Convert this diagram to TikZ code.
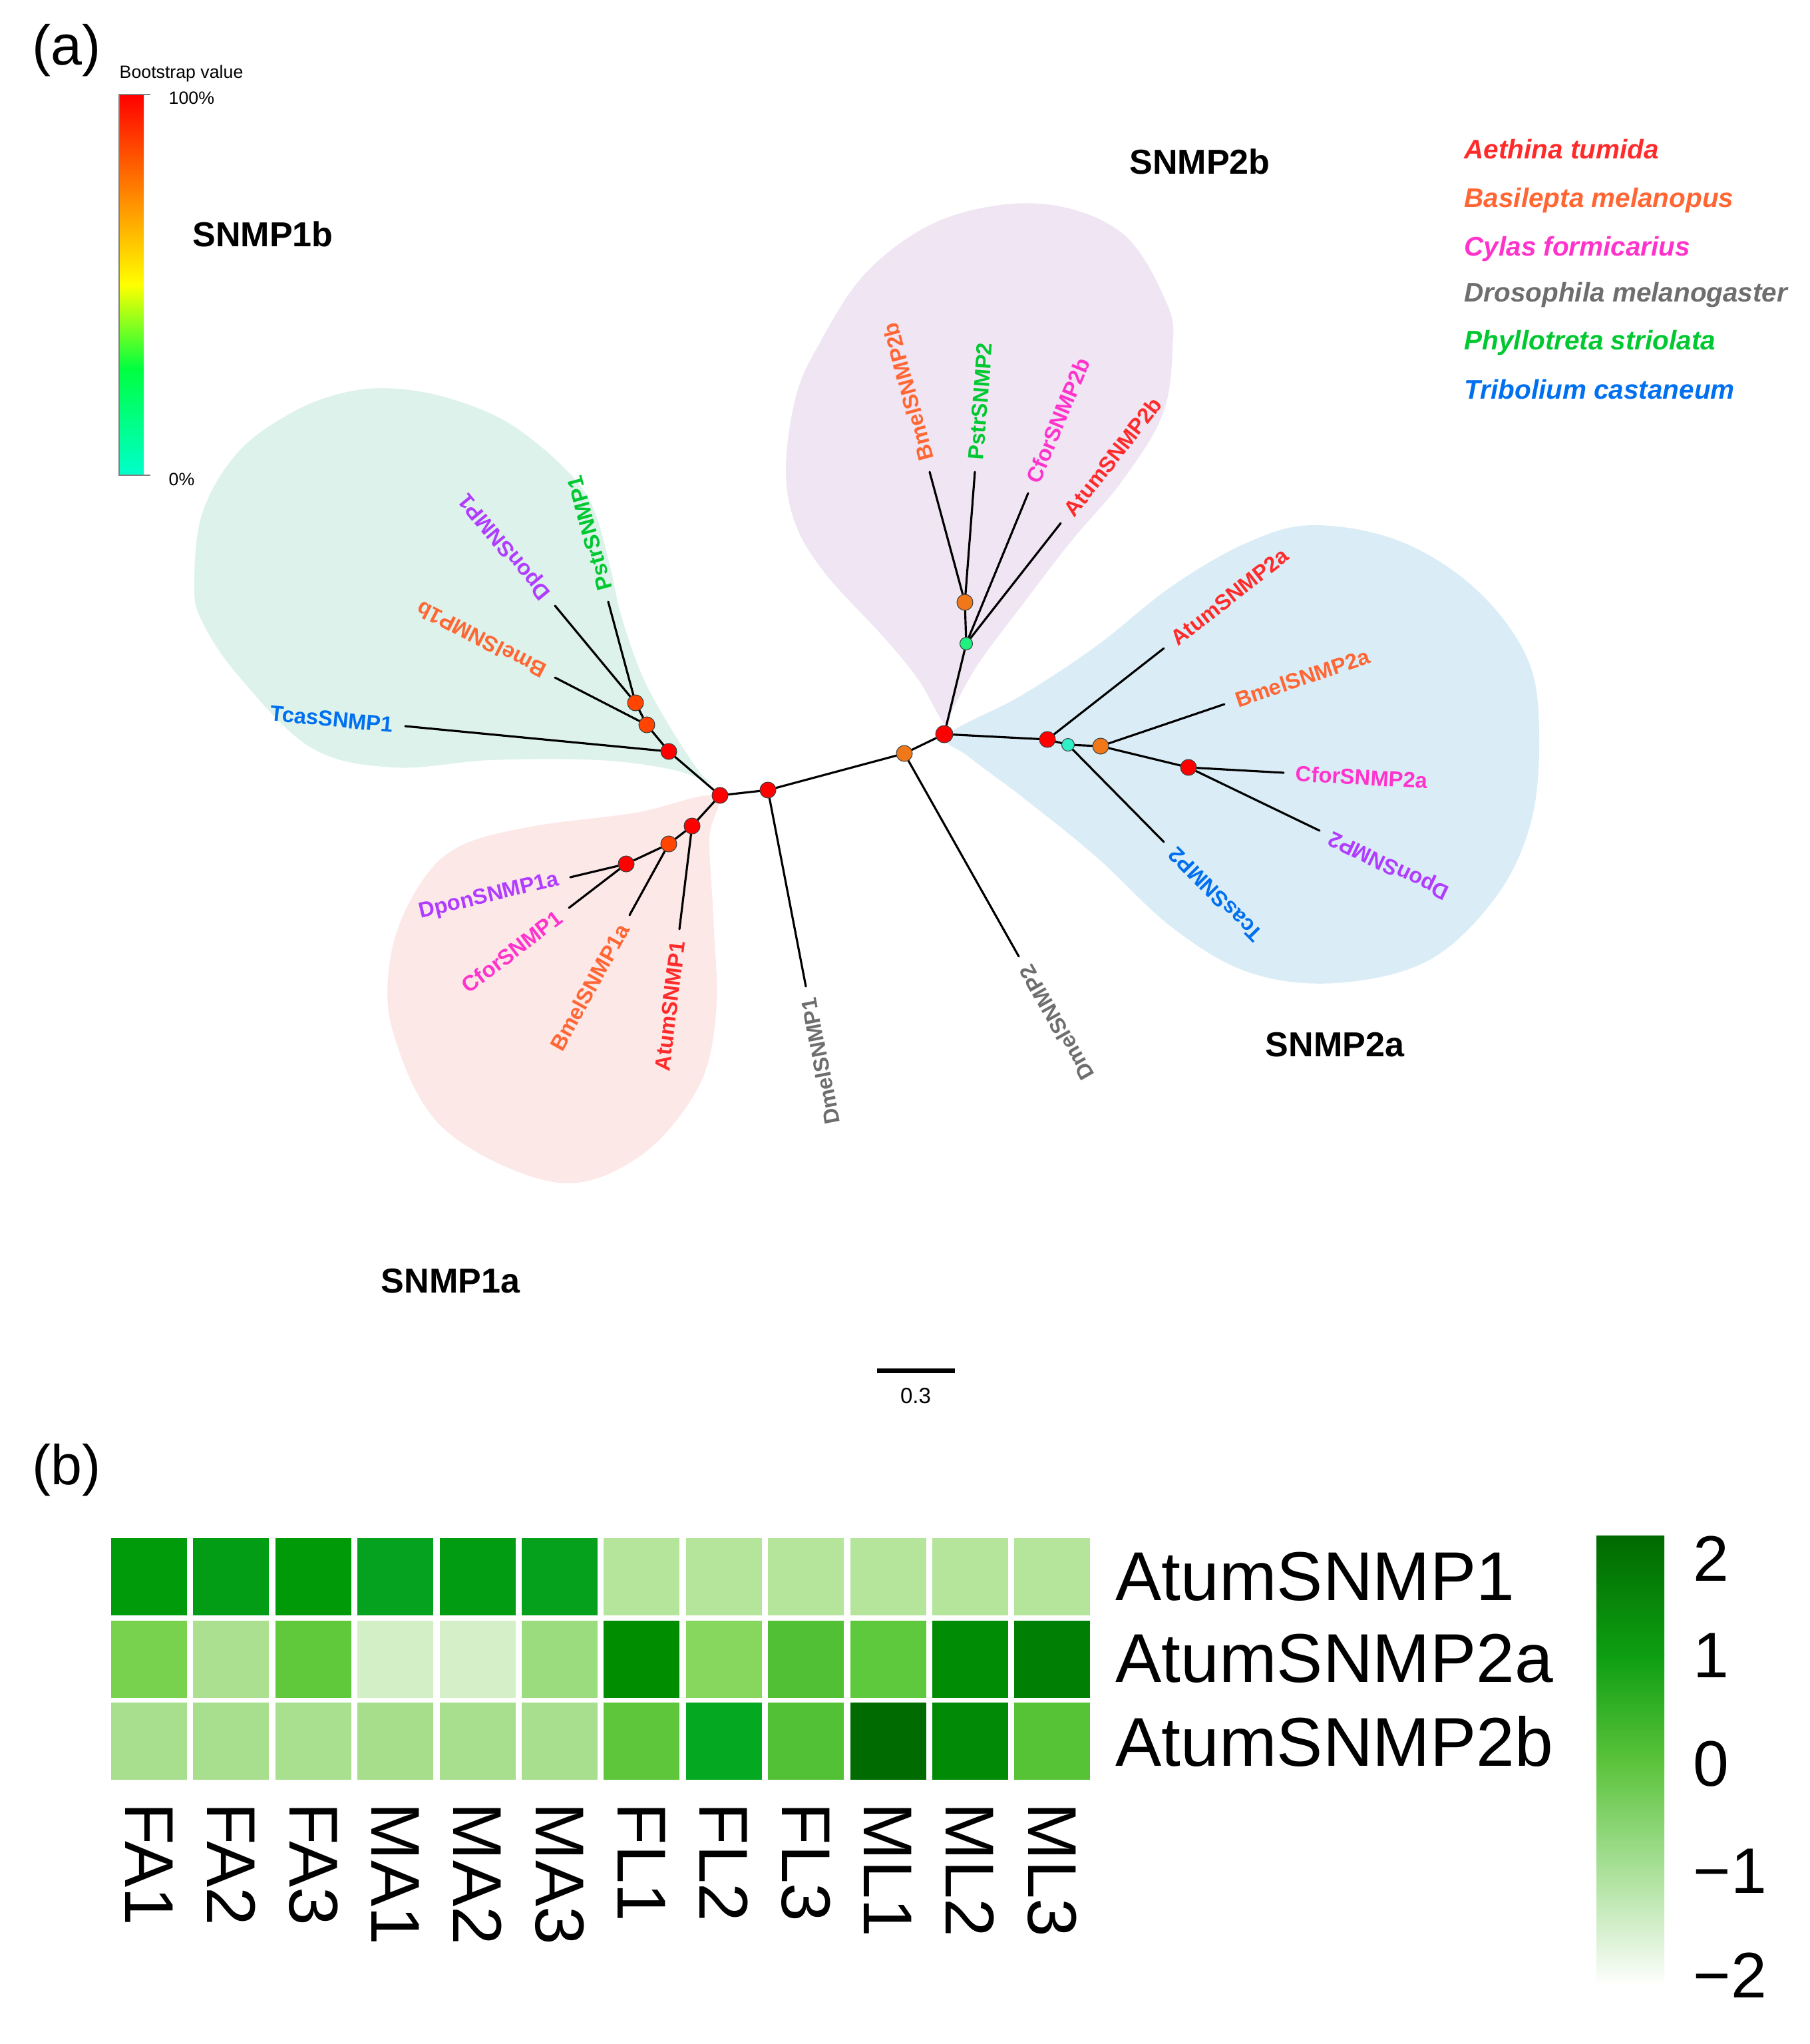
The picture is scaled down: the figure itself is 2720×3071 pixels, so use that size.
\documentclass[tikz,border=0pt]{standalone}
\usepackage{fontspec}
\setmainfont{Liberation Sans}

\definecolor{cAtum}{HTML}{FF2A2A}
\definecolor{cBmel}{HTML}{FF6633}
\definecolor{cCfor}{HTML}{FF33CC}
\definecolor{cDmel}{HTML}{6E6E6E}
\definecolor{cPstr}{HTML}{00C830}
\definecolor{cTcas}{HTML}{0070F0}
\definecolor{cDpon}{HTML}{B03CFF}
\definecolor{bsRed}{HTML}{FF0000}
\definecolor{bsRedOr}{HTML}{FF4500}
\definecolor{bsOr}{HTML}{F07818}
\definecolor{bsGreen}{HTML}{20F080}
\definecolor{bsCyan}{HTML}{30F0C8}
\definecolor{fillOneB}{HTML}{DCF2EA}
\definecolor{fillOneA}{HTML}{FDE8E8}
\definecolor{fillTwoB}{HTML}{EFE5F3}
\definecolor{fillTwoA}{HTML}{DAEDF6}

\begin{document}
\begin{tikzpicture}[x=0.01cm, y=-0.01cm,
    branch/.style={line width=0.9pt, line cap=round},
    bs/.style={circle, draw=black!75, line width=0.3pt, minimum size=0.24cm, inner sep=0pt},
    bsmall/.style={bs, minimum size=0.19cm},
    leaf/.style={font=\fontsize{9.3}{11}\selectfont\bfseries, inner xsep=5pt, inner ysep=0pt},
    cladetitle/.style={font=\fontsize{14.8}{17}\selectfont\bfseries},
    species/.style={font=\fontsize{11.5}{13}\selectfont\bfseries\itshape, anchor=base west, inner sep=0pt},
    panel/.style={font=\fontsize{24}{28}\selectfont},
    small/.style={font=\fontsize{7.6}{9}\selectfont, anchor=base west, inner sep=0pt},
    hmlab/.style={font=\fontsize{29.5}{33}\selectfont, anchor=west, inner sep=0pt}]
\useasboundingbox (0,0) rectangle (2720,3071);

% ---------- (a) tree ----------
\node[panel] (pa) at (100,76) {(a)};

% bootstrap colour bar
\node[small] (bstitle) at (179,117) {Bootstrap value};
\shade[top color=bsRed, bottom color=orange] (179,142) rectangle (216,285);
\shade[top color=orange, bottom color=yellow] (179,285) rectangle (216,428);
\shade[top color=yellow, bottom color={rgb,255:red,0;green,255;blue,64}] (179,428) rectangle (216,554);
\shade[top color={rgb,255:red,0;green,255;blue,64}, bottom color={rgb,255:red,0;green,255;blue,204}] (179,554) rectangle (216,714);
\draw[gray, line width=0.5pt] (226,142) -- (179,142) -- (179,714) -- (226,714);
\node[small] (bshi) at (253,156) {100\%};
\node[small] (bslo) at (253,729) {0\%};

% clade backgrounds
\fill[fillOneB] plot[smooth cycle, tension=0.6] coordinates {(1068,1176) (1009,1156) (900,1142) (738,1142) (591,1153) (467,1123) (358,1015) (304,934) (292,879) (304,771) (358,679) (440,619) (521,589) (597,584) (680,600) (765,636) (846,701) (890,760) (917,852) (933,923) (965,1015) (1009,1096) (1052,1161)};
\fill[fillOneA] plot[smooth cycle, tension=0.6] coordinates {(1074,1196) (955,1221) (792,1243) (684,1275) (624,1340) (587,1437) (591,1552) (666,1695) (832,1776) (956,1741) (1047,1638) (1076,1523) (1072,1380) (1066,1260)};
\fill[fillTwoB] plot[smooth cycle, tension=0.6] coordinates {(1420,1088) (1380,1021) (1326,955) (1242,864) (1196,789) (1181,706) (1195,600) (1227,524) (1303,408) (1418,329) (1563,306) (1686,350) (1754,457) (1762,524) (1747,623) (1686,723) (1609,814) (1533,913) (1471,996) (1433,1063)};
\fill[fillTwoA] plot[smooth cycle, tension=0.6] coordinates {(1425,1104) (1533,1046) (1647,971) (1762,880) (1877,814) (1976,789) (2106,814) (2221,888) (2298,996) (2313,1121) (2298,1245) (2244,1353) (2145,1444) (2007,1477) (1877,1461) (1762,1394) (1647,1287) (1533,1195) (1456,1137)};

\node[cladetitle] (tOneB) at (395,352) {SNMP1b};
\node[cladetitle] (tOneA) at (677,1925) {SNMP1a};
\node[cladetitle] (tTwoB) at (1803,243) {SNMP2b};
\node[cladetitle] (tTwoA) at (2006,1570) {SNMP2a};

% internal nodes
\coordinate (n1) at (1082,1195);
\coordinate (n2) at (1154,1187);
\coordinate (n3) at (1359,1132);
\coordinate (n4) at (1419,1103);
\coordinate (a) at (955,1056);
\coordinate (b) at (972,1089);
\coordinate (c) at (1005,1129);
\coordinate (d) at (1040,1241);
\coordinate (e) at (1005,1268);
\coordinate (f) at (941,1298);
\coordinate (g) at (1452,967);
\coordinate (h) at (1450,905);
\coordinate (i) at (1574,1111);
\coordinate (j) at (1605,1119);
\coordinate (k) at (1654,1121);
\coordinate (l) at (1786,1153);

% leaf tips
\coordinate (Pstr1) at (914,904);
\coordinate (Dpon1) at (834,910);
\coordinate (Bmel1b) at (834,1018);
\coordinate (Tcas1) at (609,1091);
\coordinate (Atum1) at (1021,1396);
\coordinate (Bmel1a) at (946,1375);
\coordinate (Cfor1) at (855,1364);
\coordinate (Dpon1a) at (857,1318);
\coordinate (Dmel1) at (1211,1482);
\coordinate (Dmel2) at (1531,1437);
\coordinate (Bmel2b) at (1397,709);
\coordinate (Pstr2) at (1465,709);
\coordinate (Cfor2b) at (1545,741);
\coordinate (Atum2b) at (1594,786);
\coordinate (Atum2a) at (1749,974);
\coordinate (Bmel2a) at (1840,1058);
\coordinate (Cfor2a) at (1929,1161);
\coordinate (Dpon2) at (1983,1248);
\coordinate (Tcas2) at (1749,1265);

% branches
\draw[branch] (n1) -- (n2) -- (n3) -- (n4);
\draw[branch] (n1) -- (c) -- (b) -- (a);
\draw[branch] (a) -- (Pstr1);
\draw[branch] (a) -- (Dpon1);
\draw[branch] (b) -- (Bmel1b);
\draw[branch] (c) -- (Tcas1);
\draw[branch] (n1) -- (d) -- (e) -- (f);
\draw[branch] (d) -- (Atum1);
\draw[branch] (e) -- (Bmel1a);
\draw[branch] (f) -- (Cfor1);
\draw[branch] (f) -- (Dpon1a);
\draw[branch] (n2) -- (Dmel1);
\draw[branch] (n3) -- (Dmel2);
\draw[branch] (n4) -- (g) -- (h);
\draw[branch] (h) -- (Bmel2b);
\draw[branch] (h) -- (Pstr2);
\draw[branch] (g) -- (Cfor2b);
\draw[branch] (g) -- (Atum2b);
\draw[branch] (n4) -- (i) -- (j) -- (k) -- (l);
\draw[branch] (i) -- (Atum2a);
\draw[branch] (j) -- (Tcas2);
\draw[branch] (k) -- (Bmel2a);
\draw[branch] (l) -- (Cfor2a);
\draw[branch] (l) -- (Dpon2);

% bootstrap dots
\node[bs, fill=bsRed] (dn1) at (n1) {};
\node[bs, fill=bsRed] (dn2) at (n2) {};
\node[bs, fill=bsOr] (dn3) at (n3) {};
\node[bs, fill=bsRed, minimum size=0.26cm] (dn4) at (n4) {};
\node[bs, fill=bsRedOr] (da) at (a) {};
\node[bs, fill=bsRedOr] (db) at (b) {};
\node[bs, fill=bsRed] (dc) at (c) {};
\node[bs, fill=bsRed] (dd) at (d) {};
\node[bs, fill=bsRedOr] (de) at (e) {};
\node[bs, fill=bsRed] (df) at (f) {};
\node[bsmall, fill=bsGreen] (dg) at (g) {};
\node[bs, fill=bsOr] (dh) at (h) {};
\node[bs, fill=bsRed] (di) at (i) {};
\node[bsmall, fill=bsCyan] (dj) at (j) {};
\node[bs, fill=bsOr] (dk) at (k) {};
\node[bs, fill=bsRed] (dl) at (l) {};

% leaf labels
\node[leaf, text=cPstr, rotate=105.1, anchor=west] (lPstr1) at (Pstr1) {PstrSNMP1};
\node[leaf, text=cDpon, rotate=129.6, anchor=west] (lDpon1) at (Dpon1) {DponSNMP1};
\node[leaf, text=cBmel, rotate=152.8, anchor=west] (lBmel1b) at (Bmel1b) {BmelSNMP1b};
\node[leaf, text=cTcas, rotate=-5.5, anchor=east] (lTcas1) at (Tcas1) {TcasSNMP1};
\node[leaf, text=cAtum, rotate=83, anchor=east] (lAtum1) at (Atum1) {AtumSNMP1};
\node[leaf, text=cBmel, rotate=61, anchor=east] (lBmel1a) at (Bmel1a) {BmelSNMP1a};
\node[leaf, text=cCfor, rotate=37.5, anchor=east] (lCfor1) at (Cfor1) {CforSNMP1};
\node[leaf, text=cDpon, rotate=13.4, anchor=east] (lDpon1a) at (Dpon1a) {DponSNMP1a};
\node[leaf, text=cDmel, rotate=101, anchor=east] (lDmel1) at (Dmel1) {DmelSNMP1};
\node[leaf, text=cDmel, rotate=119.6, anchor=east] (lDmel2) at (Dmel2) {DmelSNMP2};
\node[leaf, text=cBmel, rotate=105.1, anchor=west] (lBmel2b) at (Bmel2b) {BmelSNMP2b};
\node[leaf, text=cPstr, rotate=85.6, anchor=west] (lPstr2) at (Pstr2) {PstrSNMP2};
\node[leaf, text=cCfor, rotate=67.6, anchor=west] (lCfor2b) at (Cfor2b) {CforSNMP2b};
\node[leaf, text=cAtum, rotate=51.9, anchor=west] (lAtum2b) at (Atum2b) {AtumSNMP2b};
\node[leaf, text=cAtum, rotate=38, anchor=west] (lAtum2a) at (Atum2a) {AtumSNMP2a};
\node[leaf, text=cBmel, rotate=18.7, anchor=west] (lBmel2a) at (Bmel2a) {BmelSNMP2a};
\node[leaf, text=cCfor, rotate=-3.2, anchor=west] (lCfor2a) at (Cfor2a) {CforSNMP2a};
\node[leaf, text=cDpon, rotate=154.3, anchor=east] (lDpon2) at (Dpon2) {DponSNMP2};
\node[leaf, text=cTcas, rotate=134.6, anchor=east] (lTcas2) at (Tcas2) {TcasSNMP2};

% species legend
\node[species, text=cAtum] (spAtum) at (2200,238) {Aethina tumida};
\node[species, text=cBmel] (spBmel) at (2200,311) {Basilepta melanopus};
\node[species, text=cCfor] (spCfor) at (2200,384) {Cylas formicarius};
\node[species, text=cDmel] (spDmel) at (2200,453) {Drosophila melanogaster};
\node[species, text=cPstr] (spPstr) at (2200,525) {Phyllotreta striolata};
\node[species, text=cTcas] (spTcas) at (2200,599) {Tribolium castaneum};

% scale bar
\coordinate (sbL) at (1318,2059);
\coordinate (sbR) at (1435,2059);
\draw[line width=2pt] (sbL) -- (sbR);
\node[font=\fontsize{9.4}{11}\selectfont] (sblab) at (1376,2097) {0.3};

% ---------- (b) heatmap ----------
\node[panel] (pb) at (100,2209) {(b)};

\foreach \row [count=\j from 0] in {{009B0B,039C15,009A09,04A21F,029C12,05A01C,B5E49B,B5E49B,B5E49B,B5E49B,B5E49B,B5E49B},
    {78D24E,ABE091,5FC93B,D3EFC5,D5F0C8,9BDD7E,008D00,87D65E,51C034,5FC93D,008C04,007F05},
    {A8DF8F,A8DF8F,A9E08F,A6DE8C,A7DF8E,A8DF8F,5DC63A,04A821,53C136,006B00,008A06,56C337}}{
  \foreach \hex [count=\i from 0] in \row {
    \definecolor{cellc}{HTML}{\hex}
    \fill[cellc] ({167+\i*123.4},{2311+\j*123.5}) rectangle ++(114,116);
  }
}

\node[hmlab] (rAtum1) at (1676,2369) {AtumSNMP1};
\node[hmlab] (rAtum2a) at (1676,2492) {AtumSNMP2a};
\node[hmlab] (rAtum2b) at (1676,2616) {AtumSNMP2b};

\foreach \lab [count=\i from 0] in {FA1,FA2,FA3,MA1,MA2,MA3,FL1,FL2,FL3,ML1,ML2,ML3}
  \node[hmlab, rotate=-90] (col\i) at ({224+\i*123.4},2708) {\lab};

% z-score legend
\shade[top color={rgb,255:red,0;green,106;blue,0}, bottom color={rgb,255:red,14;green,158;blue,18}] (2399,2307) rectangle (2501,2487);
\shade[top color={rgb,255:red,14;green,158;blue,18}, bottom color={rgb,255:red,92;green,196;blue,60}] (2399,2487) rectangle (2501,2650);
\shade[top color={rgb,255:red,92;green,196;blue,60}, bottom color=white] (2399,2650) rectangle (2501,2985);
\node[hmlab, font=\fontsize{27.5}{31}\selectfont] (zTwo) at (2544,2342) {2};
\node[hmlab, font=\fontsize{27.5}{31}\selectfont] (zOne) at (2544,2487) {1};
\node[hmlab, font=\fontsize{27.5}{31}\selectfont] (zZero) at (2544,2650) {0};
\node[hmlab, font=\fontsize{27.5}{31}\selectfont] (zmOne) at (2544,2811) {−1};
\node[hmlab, font=\fontsize{27.5}{31}\selectfont] (zmTwo) at (2544,2968) {−2};

\end{tikzpicture}
\end{document}
